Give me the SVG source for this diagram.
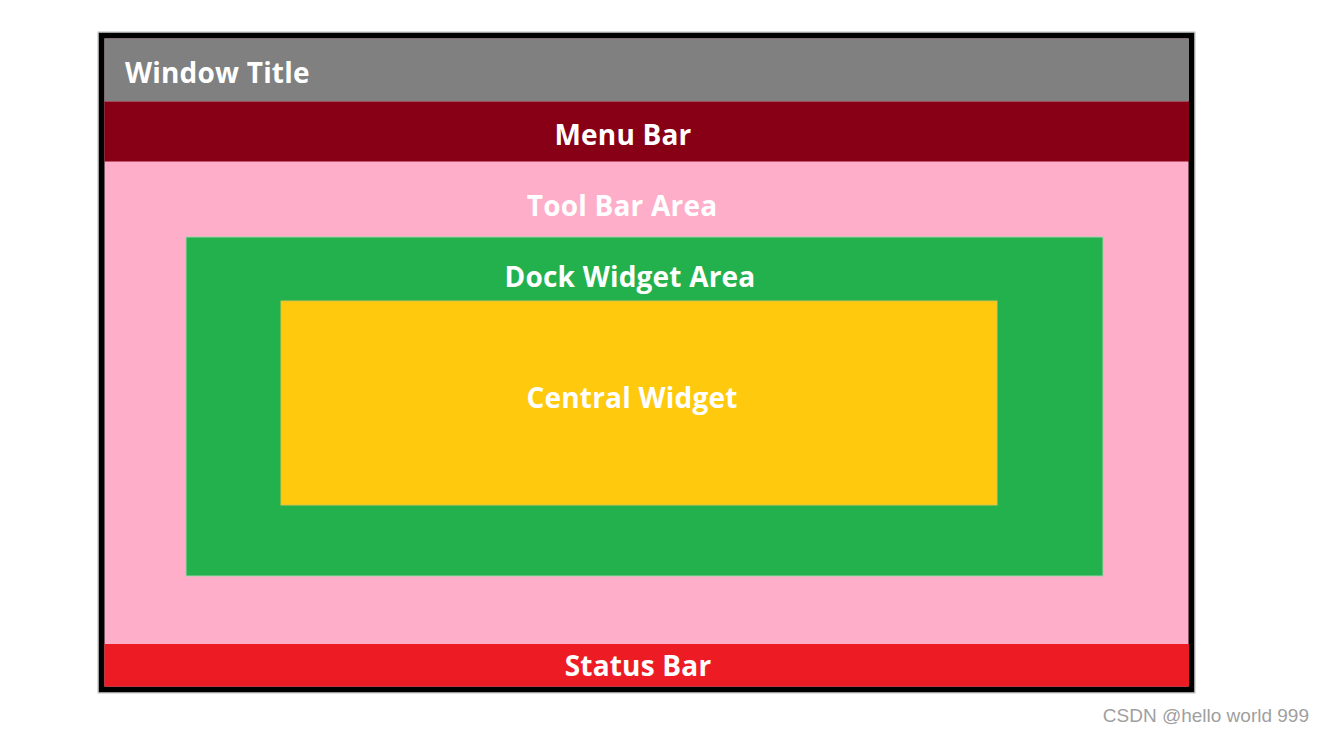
<svg xmlns="http://www.w3.org/2000/svg" width="1325" height="732" viewBox="0 0 1325 732">
<style>
.lbl{font-family:"Open Sans","Noto Sans",sans-serif;font-weight:bold;font-size:28px;letter-spacing:0.2px;fill:#ffffff;text-anchor:middle}
</style>
<rect x="0" y="0" width="1325" height="732" fill="#ffffff"/>
<g id="window">
<rect x="101.5" y="35.5" width="1090" height="654" fill="#ffaec9" stroke="#000000" stroke-width="6"/>
<rect x="98" y="32" width="1097" height="661" fill="none" stroke="#bbbbbb" stroke-width="1"/>
</g>
<g id="title">
<rect x="104.5" y="38.5" width="1084.5" height="63" fill="#808080"/>
<text class="lbl" x="125" y="83" style="text-anchor:start">Window Title</text>
</g>
<g id="menubar">
<rect x="104.5" y="101.5" width="1084.5" height="60" fill="#880015"/>
<text class="lbl" x="623" y="145">Menu Bar</text>
</g>
<g id="toolbar">
<text class="lbl" x="622" y="216">Tool Bar Area</text>
</g>
<g id="dock">
<rect x="186" y="237" width="917" height="339" fill="#22b14c" stroke="#9fd3a9" stroke-width="1"/>
<text class="lbl" x="630" y="287">Dock Widget Area</text>
</g>
<g id="central">
<rect x="281" y="301" width="716" height="204" fill="#ffc90e" stroke="#d7c24a" stroke-width="1"/>
<text class="lbl" x="632" y="408">Central Widget</text>
</g>
<g id="statusbar">
<rect x="104.5" y="644" width="1084.5" height="42.5" fill="#ed1c24"/>
<text class="lbl" x="638" y="676">Status Bar</text>
</g>
<g id="connectors"></g>
<text x="1309" y="722" font-family="Liberation Sans, Arial, sans-serif" font-size="19" fill="#a0a0a0" text-anchor="end">CSDN @hello world 999</text>
</svg>
